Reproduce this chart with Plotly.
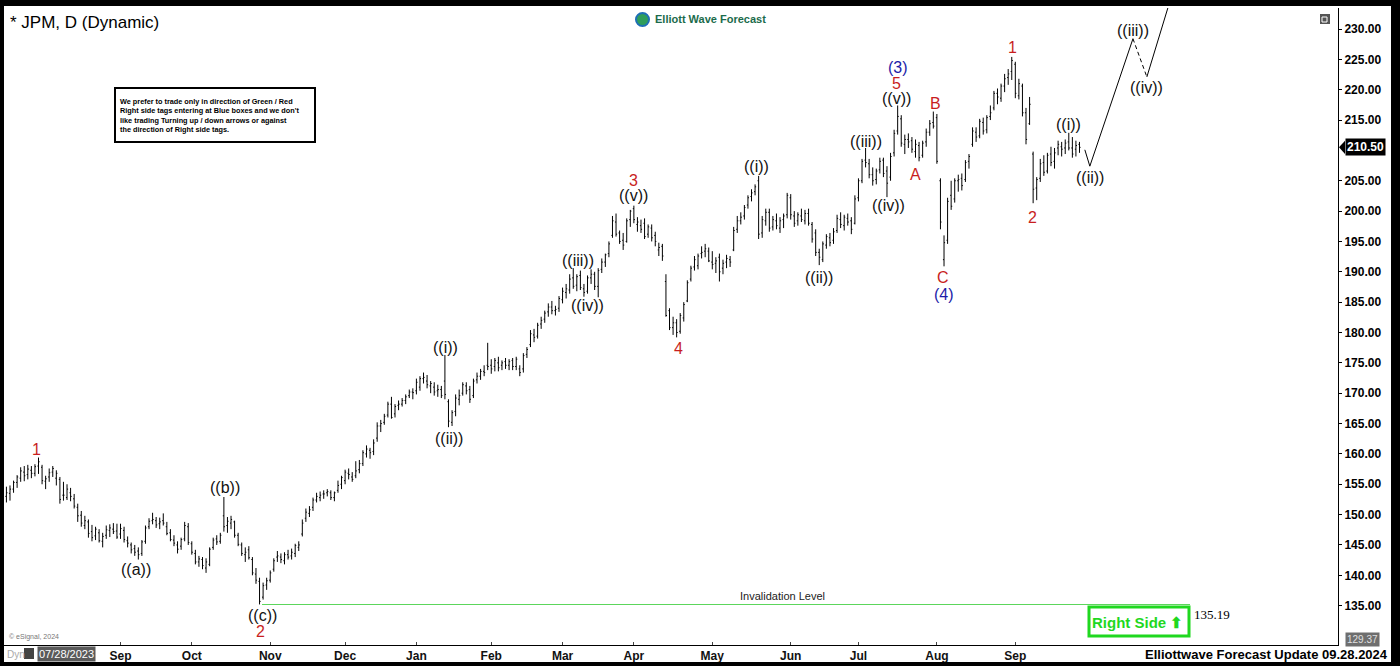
import pandas as pd
import plotly.graph_objs as go

# JPM daily bars, 19 Jul 2023 .. 27 Sep 2024
holidays = ["2023-09-04", "2023-11-23", "2023-12-25", "2024-01-01", "2024-01-15",
            "2024-02-19", "2024-03-29", "2024-05-27", "2024-06-19", "2024-07-04",
            "2024-09-02"]

opens = [
    153.0, 153.5, 154.2, 155.3, 156.0, 157.0, 156.6, 157.3, 156.8,  # jul 23
    158.0, 157.8, 155.5, 156.2, 157.0, 156.0, 155.8, 153.2, 152.8, 153.6, 152.6, 151.2,
    149.9, 148.2, 148.8, 147.2, 146.5, 147.0, 145.6, 146.6, 147.4, 147.6, 147.3,  # aug
    146.8, 147.4, 145.7, 145.0, 144.4, 144.0, 143.6, 145.6, 148.0, 149.0, 149.0, 148.5,
    149.0, 148.0, 147.0, 145.8, 145.0, 144.8, 146.0, 148.0,  # sep
    145.2, 143.6, 142.2, 142.6, 141.2, 141.8, 144.6, 146.0, 145.6, 149.8, 148.2, 148.6,
    148.8, 146.6, 145.0, 143.4, 144.2, 142.6, 140.2, 139.0, 136.4, 138.4,  # oct
    139.2, 141.0, 143.0, 143.0, 142.4, 143.4, 143.2, 143.6, 144.6, 146.8, 149.4, 150.2,
    151.2, 152.4, 152.8, 153.4, 153.6, 153.6, 152.8, 154.0, 155.0,  # nov
    155.6, 156.8, 156.2, 156.4, 157.4, 158.4, 160.0, 160.6, 160.4, 162.6, 164.6, 165.2,
    166.4, 168.2, 166.6, 168.0, 168.2, 168.8, 169.6, 170.2,  # dec
    170.4, 171.0, 172.4, 172.0, 171.2, 171.0, 170.4, 170.6, 172.0, 168.6, 165.2, 167.0,
    169.0, 170.0, 171.2, 170.6, 169.6, 172.2, 172.8, 173.6, 174.6,  # jan 24
    174.6, 174.4, 175.0, 174.6, 175.2, 174.6, 175.4, 174.4, 174.0, 174.0, 176.4, 178.0,
    179.6, 179.4, 181.4, 182.2, 183.4, 184.2, 183.6, 184.0,  # feb
    185.4, 186.6, 187.0, 189.0, 187.8, 189.4, 187.2, 186.8, 189.0, 189.6, 187.6, 190.4,
    191.6, 193.0, 196.0, 198.2, 196.4, 195.2, 195.0, 198.6,  # mar
    200.4, 197.8, 197.6, 198.0, 196.2, 197.2, 196.0, 193.6, 194.2, 188.4, 183.6, 180.8,
    181.6, 180.2, 182.4, 185.2, 188.8, 190.8, 191.0, 193.0, 193.4, 193.4,  # apr
    191.6, 191.4, 192.4, 190.6, 191.6, 192.0, 193.6, 197.0, 198.4, 199.2, 201.0, 202.4,
    203.2, 205.0, 196.4, 198.4, 199.8, 197.4, 198.4, 197.2, 198.6, 199.4,  # may
    202.2, 199.2, 198.4, 199.2, 198.4, 199.6, 197.8, 196.4, 193.2, 192.0, 194.4, 195.6,
    195.2, 196.8, 198.6, 197.6, 198.8, 198.4, 198.0,  # jun
    202.2, 205.0, 208.4, 207.8, 206.0, 205.2, 206.8, 208.4, 206.6, 205.6, 209.6, 213.2,
    215.2, 211.0, 211.8, 211.6, 209.8, 210.8, 209.2, 211.4, 213.0, 214.6,  # jul
    215.4, 205.0, 192.0, 195.2, 202.6, 202.0, 205.0, 205.4, 205.2, 208.2, 211.0, 213.0,
    212.4, 214.6, 213.4, 215.6, 217.0, 219.4, 218.6, 220.6, 222.0, 223.0,  # aug
    224.2, 219.0, 220.6, 216.2, 214.4, 209.4, 203.8, 205.4, 208.0, 206.6, 209.4, 208.2,
    210.4, 210.6, 210.4, 211.4, 210.4, 210.2, 211.0,  # sep
]

highs = [
    154.6, 154.8, 155.6, 156.5, 157.8, 158.0, 158.2, 158.0, 158.3,
    159.4, 158.2, 156.4, 157.6, 158.0, 157.3, 156.2, 155.4, 155.0, 154.4, 153.4, 151.8,
    150.6, 149.8, 149.2, 148.3, 148.0, 147.6, 147.0, 148.2, 148.4, 148.6, 148.5,
    148.5, 148.0, 146.4, 145.4, 145.0, 144.6, 145.8, 148.2, 149.4, 150.3, 149.6, 149.5,
    150.2, 148.8, 147.6, 146.6, 145.6, 146.2, 148.8, 148.6,
    145.6, 144.2, 143.2, 143.0, 142.8, 144.6, 146.2, 146.6, 147.0, 152.9, 149.6, 149.8,
    149.0, 147.0, 145.4, 144.6, 144.8, 143.0, 141.2, 139.6, 138.8, 139.6,
    140.8, 142.8, 144.0, 143.6, 143.8, 144.2, 144.4, 145.2, 145.6, 149.2, 151.0, 151.4,
    152.8, 153.6, 153.8, 154.0, 154.2, 154.0, 153.8, 155.6, 156.4,
    157.4, 157.6, 157.0, 158.8, 159.0, 160.6, 161.4, 161.0, 162.4, 165.2, 165.6, 166.6,
    168.6, 169.4, 168.2, 168.8, 169.2, 169.8, 170.6, 170.8,
    172.4, 172.8, 173.4, 173.0, 172.0, 171.8, 171.4, 171.2, 176.3, 169.0, 167.2, 169.8,
    170.6, 171.8, 171.8, 171.2, 172.4, 173.4, 174.0, 174.6, 178.3,
    175.6, 175.8, 176.0, 175.4, 175.8, 175.6, 175.8, 176.0, 174.6, 176.6, 177.6, 180.4,
    180.6, 181.6, 182.6, 183.6, 184.8, 185.2, 184.4, 186.0,
    187.4, 188.0, 189.6, 190.6, 189.6, 190.2, 188.0, 189.4, 190.4, 190.0, 190.6, 192.2,
    193.0, 195.0, 199.2, 199.6, 196.8, 196.4, 198.8, 200.2,
    200.9, 199.0, 198.6, 198.8, 197.8, 197.8, 196.6, 194.8, 194.6, 189.6, 184.0, 182.6,
    182.2, 183.2, 185.0, 188.6, 191.0, 192.6, 193.0, 194.2, 194.6, 194.0,
    193.4, 192.4, 193.0, 192.0, 192.8, 192.6, 197.4, 199.2, 199.8, 201.0, 202.6, 203.6,
    204.4, 205.8, 199.2, 200.4, 200.4, 199.2, 199.6, 199.0, 199.6, 203.0,
    202.8, 200.0, 199.8, 200.4, 200.2, 200.4, 198.2, 197.0, 193.8, 195.0, 196.2, 196.4,
    197.2, 199.4, 199.8, 199.4, 199.6, 199.0, 202.6,
    205.4, 208.6, 210.4, 208.6, 207.2, 207.0, 208.8, 208.8, 207.4, 209.6, 213.4, 217.4,
    215.8, 212.6, 212.8, 212.2, 211.8, 211.4, 211.6, 213.6, 215.0, 216.4,
    216.0, 205.4, 196.0, 202.2, 205.0, 205.4, 206.0, 206.2, 208.4, 209.4, 213.8, 213.8,
    215.2, 215.4, 215.8, 217.4, 219.8, 220.2, 221.0, 222.6, 223.4, 225.4,
    224.6, 221.8, 221.0, 217.0, 218.8, 209.8, 205.6, 208.6, 209.2, 209.6, 210.6, 210.4,
    211.6, 211.4, 211.8, 212.9, 212.2, 211.6, 211.4,
]

lows = [
    152.0, 152.3, 153.6, 154.4, 155.4, 155.5, 155.8, 156.0, 156.3,
    156.7, 155.0, 154.2, 155.4, 156.2, 154.8, 151.8, 152.3, 152.4, 152.2, 151.0, 148.8,
    148.0, 147.6, 146.2, 145.6, 145.8, 145.4, 144.6, 146.0, 146.3, 146.8, 146.0,
    146.0, 145.4, 144.6, 143.6, 143.2, 142.6, 143.2, 145.2, 147.6, 148.4, 147.8, 147.6,
    148.2, 146.6, 145.6, 144.8, 143.6, 144.2, 145.6, 145.0,
    143.4, 141.8, 141.4, 141.0, 140.4, 141.5, 144.2, 145.0, 145.2, 147.2, 147.0, 147.6,
    146.2, 144.8, 143.2, 142.2, 142.6, 140.0, 138.6, 135.2, 136.0, 137.6,
    138.8, 140.6, 142.2, 142.0, 141.8, 142.6, 142.6, 143.0, 144.0, 146.4, 148.8, 149.6,
    150.6, 152.0, 152.2, 152.6, 153.0, 152.4, 152.2, 153.6, 154.2,
    155.0, 155.8, 155.4, 156.0, 156.8, 158.0, 159.4, 159.2, 159.8, 162.0, 163.6, 164.8,
    166.0, 165.8, 166.0, 167.2, 167.8, 168.2, 169.2, 169.0,
    169.8, 170.4, 171.6, 170.8, 170.0, 169.6, 169.4, 169.2, 169.0, 164.4, 164.6, 166.2,
    168.0, 169.6, 169.8, 168.4, 169.2, 171.6, 172.2, 172.8, 173.8,
    173.2, 173.6, 173.6, 173.8, 174.0, 173.8, 173.8, 173.8, 172.8, 173.4, 175.8, 177.6,
    178.4, 179.0, 180.6, 181.6, 182.6, 183.0, 182.8, 183.4,
    184.8, 185.6, 186.4, 187.2, 186.8, 187.0, 185.9, 186.4, 188.0, 187.0, 185.8, 189.8,
    190.8, 192.4, 195.6, 195.8, 194.6, 193.6, 194.8, 197.4,
    198.0, 196.6, 196.4, 195.4, 195.6, 195.0, 194.2, 192.6, 191.8, 182.6, 180.4, 179.6,
    179.2, 179.8, 181.8, 185.0, 188.4, 190.2, 190.4, 192.2, 192.4, 191.6,
    190.4, 189.8, 188.4, 189.6, 190.6, 190.8, 193.4, 196.4, 197.8, 198.6, 200.4, 201.6,
    202.6, 195.4, 195.6, 197.6, 196.6, 196.8, 197.0, 196.4, 197.2, 198.8,
    198.6, 197.4, 197.6, 198.2, 197.8, 197.6, 194.8, 192.6, 191.1, 191.6, 193.8, 194.2,
    194.6, 196.4, 197.2, 196.8, 197.6, 196.2, 197.8,
    201.6, 204.6, 207.2, 205.4, 204.2, 204.4, 206.2, 205.6, 202.3, 205.0, 209.0, 212.6,
    210.6, 209.4, 210.4, 209.6, 208.8, 208.2, 208.8, 210.6, 212.4, 213.6,
    207.8, 197.0, 190.9, 194.6, 200.2, 201.4, 203.2, 203.4, 204.8, 207.0, 210.6, 211.4,
    212.0, 212.6, 212.8, 215.0, 216.6, 217.6, 218.0, 219.6, 220.8, 221.6,
    218.6, 218.4, 215.6, 211.0, 214.2, 201.3, 201.8, 204.8, 205.8, 206.2, 207.4, 207.0,
    209.2, 209.0, 209.4, 210.0, 208.8, 209.0, 209.6,
]

closes = [
    153.6, 154.2, 155.3, 156.2, 157.2, 156.4, 157.5, 156.8, 157.9,
    158.7, 155.6, 155.9, 156.9, 157.6, 156.8, 152.5, 153.2, 154.2, 153.0, 151.4, 149.8,
    148.6, 149.0, 146.9, 146.2, 147.6, 145.7, 146.4, 147.5, 147.8, 147.2, 146.3,
    147.7, 145.9, 145.3, 144.2, 143.8, 143.4, 145.5, 147.8, 148.9, 149.2, 148.3, 148.8,
    148.6, 146.9, 145.9, 145.3, 144.3, 145.9, 148.2, 145.4,
    143.8, 142.2, 142.7, 141.6, 142.2, 144.3, 145.8, 145.5, 146.6, 148.0, 148.9, 149.2,
    146.6, 145.1, 143.6, 143.8, 142.9, 140.4, 139.2, 135.7, 138.3, 139.1,
    140.4, 142.4, 143.2, 142.6, 143.4, 143.0, 143.8, 144.9, 145.0, 148.6, 150.4, 150.8,
    152.4, 153.0, 153.2, 153.4, 153.8, 152.8, 153.6, 154.8, 156.1,
    157.0, 156.6, 155.8, 157.2, 158.4, 160.2, 160.8, 160.2, 161.8, 164.6, 165.0, 166.2,
    168.2, 166.0, 167.8, 168.2, 168.8, 169.4, 170.2, 170.1,
    171.8, 172.4, 172.6, 171.4, 171.6, 170.2, 170.6, 169.6, 169.8, 165.4, 166.8, 169.2,
    169.6, 171.4, 170.4, 169.0, 172.0, 172.8, 173.6, 173.4, 174.4,
    174.0, 175.4, 174.2, 175.0, 174.6, 175.2, 174.4, 175.6, 173.4, 176.2, 177.2, 179.8,
    179.2, 181.2, 182.0, 183.2, 184.2, 183.6, 183.8, 185.6,
    186.8, 187.2, 188.8, 187.6, 189.2, 187.4, 186.6, 189.0, 189.6, 187.6, 190.2, 191.6,
    192.8, 194.6, 198.4, 196.2, 195.0, 194.4, 198.4, 200.0,
    198.6, 198.2, 197.0, 195.8, 197.4, 195.6, 195.0, 194.0, 192.6, 182.8, 180.8, 181.6,
    180.0, 182.8, 184.6, 188.2, 190.6, 192.0, 192.6, 193.2, 193.8, 191.8,
    191.2, 191.8, 190.0, 191.4, 192.2, 191.6, 196.8, 198.4, 199.0, 200.6, 202.2, 203.0,
    204.0, 196.2, 198.6, 199.8, 197.2, 198.6, 197.6, 198.4, 199.2, 202.6,
    199.4, 198.0, 199.4, 198.6, 199.6, 198.0, 195.4, 193.2, 192.4, 194.6, 195.8, 194.8,
    196.6, 198.8, 197.8, 199.0, 198.2, 197.0, 202.0,
    205.0, 208.2, 208.0, 206.0, 205.0, 206.6, 208.2, 206.2, 204.6, 209.0, 212.8, 215.6,
    211.2, 211.8, 211.4, 210.2, 211.0, 208.8, 211.2, 213.0, 214.4, 214.0,
    208.2, 198.2, 194.8, 201.6, 200.8, 205.0, 205.2, 204.2, 208.0, 209.0, 213.2, 212.2,
    214.8, 213.2, 215.4, 216.2, 219.4, 218.8, 220.6, 221.8, 222.6, 224.8,
    219.4, 221.0, 216.2, 211.8, 217.6, 203.6, 205.2, 207.8, 206.4, 209.2, 208.0, 209.6,
    211.0, 210.2, 211.2, 210.4, 209.4, 210.8, 210.5,
]

# wave counts: bar position, price, label, colour
RED, BLUE, BLK = "#c81e1e", "#1c1ca8", "#111111"
wave_labels = [
    (8.3, 160.8, "1", RED), (36.3, 141.0, "((a))", BLK), (61.3, 154.4, "((b))", BLK),
    (71.7, 133.3, "((c))", BLK), (71.4, 130.7, "2", RED),
    (123.3, 177.6, "((i))", BLK), (124.1, 162.6, "((ii))", BLK),
    (160.3, 191.8, "((iii))", BLK), (163.1, 184.4, "((iv))", BLK),
    (175.8, 205.0, "3", RED), (175.8, 202.5, "((v))", BLK), (188.4, 177.4, "4", RED),
    (210.5, 207.3, "((i))", BLK), (227.9, 189.0, "((ii))", BLK),
    (241.1, 211.5, "((iii))", BLK), (247.3, 201.0, "((iv))", BLK),
    (250.1, 223.6, "(3)", BLUE), (249.8, 221.1, "5", RED), (249.8, 218.6, "((v))", BLK),
    (254.9, 206.1, "A", RED), (260.5, 217.8, "B", RED), (262.7, 189.0, "C", RED),
    (263.0, 186.2, "(4)", BLUE), (282.1, 227.0, "1", RED), (287.9, 198.9, "2", RED),
    (297.8, 214.3, "((i))", BLK), (303.9, 205.5, "((ii))", BLK),
    (316.0, 229.8, "((iii))", BLK), (319.9, 220.3, "((iv))", BLK),
]

# projected path
proj_x = [302.5, 303.9, 316.0]
proj_y = [210.1, 207.4, 228.4]
proj_dash_x = [316.0, 319.9]
proj_dash_y = [228.4, 222.1]
proj_end_x = [319.9, 327.1]
proj_end_y = [222.1, 236.0]

invalidation = 135.19
inval_x = [71.7, 332.0]
last_price = 210.50
low_price = 129.37
price_ticks = [135, 140, 145, 150, 155, 160, 165, 170, 175, 180, 185, 190, 195, 200,
               205, 215, 220, 225, 230]

days = pd.bdate_range("2023-07-19", "2024-09-27")
days = days[~days.isin(pd.to_datetime(holidays))]
xs = list(range(len(days)))

tickvals = [i for i in xs[1:] if days[i].month != days[i - 1].month][1:]
ticktext = [days[i].strftime("%b") for i in tickvals]

W, H = 1400, 666
L, R, T, B = 4, 1338, 8, 645
FONT = "Liberation Sans, Arial, sans-serif"


def px(x):
    return (x - L) / (R - L)


def py(y):
    return (B - y) / (B - T)


def note(x, y, text, size, color="black", xanchor="center", **kw):
    # overlay text placed at a pixel position of the page
    return dict(xref="paper", yref="paper", x=px(x), y=py(y), text=text, showarrow=False,
                xanchor=xanchor, yanchor="middle",
                font=dict(family=kw.pop("family", FONT), size=size, color=color), **kw)


fig = go.Figure()
fig.add_trace(go.Ohlc(x=xs, open=opens, high=highs, low=lows, close=closes,
                      increasing=dict(line=dict(color="black", width=1)),
                      decreasing=dict(line=dict(color="black", width=1)),
                      tickwidth=0.3, hoverinfo="skip", showlegend=False))

fig.add_trace(go.Scatter(x=inval_x, y=[invalidation] * 2, mode="lines",
                         line=dict(color="#5cd65c", width=1), hoverinfo="skip",
                         showlegend=False))
fig.add_trace(go.Scatter(x=proj_x, y=proj_y, mode="lines", line=dict(color="black", width=1),
                         hoverinfo="skip", showlegend=False))
fig.add_trace(go.Scatter(x=proj_dash_x, y=proj_dash_y, mode="lines",
                         line=dict(color="black", width=1, dash="4px,3px"),
                         hoverinfo="skip", showlegend=False))
fig.add_trace(go.Scatter(x=proj_end_x, y=proj_end_y, mode="lines",
                         line=dict(color="black", width=1), hoverinfo="skip",
                         showlegend=False))

ann = []
for x, y, t, c in wave_labels:
    ann.append(dict(x=x, y=y, text=t, showarrow=False, xanchor="center", yanchor="middle",
                    font=dict(family=FONT, size=16, color=c)))

ann += [
    dict(x=217.8, y=invalidation, text="Invalidation Level", showarrow=False, yanchor="bottom",
         yshift=1, font=dict(family=FONT, size=11, color="#222")),
    dict(x=332.6, y=invalidation, text="135.19", showarrow=False, xanchor="left", yanchor="top",
         font=dict(family="Liberation Serif, Times New Roman, serif", size=13, color="black")),
    note(1137, 622, "<b>Right Side ⬆</b>", 15, "#1fd81f"),
    note(8, 22, "* JPM, D (Dynamic)", 17, xanchor="left"),
    note(653, 19, "<b>Elliott Wave Forecast</b>", 11, "#1b6b4b", xanchor="left"),
    note(118, 115, "<b>We prefer to trade only in direction of Green / Red<br>"
                   "Right side tags entering at Blue boxes and we don't<br>"
                   "like trading Turning up / down arrows or against<br>"
                   "the direction of Right side tags.</b>", 7.3, xanchor="left", align="left"),
    note(1390, 654, "<b>Elliottwave Forecast Update 09.28.2024</b>", 13, xanchor="right"),
    note(7, 637, "© eSignal, 2024", 7, "#777", xanchor="left"),
    note(5, 654, "Dyn", 10, "#aaa", xanchor="left"),
    note(37, 654, "07/28/2023", 11, "white", xanchor="left", bgcolor="#5a5a5a", borderpad=1),
    dict(xref="paper", x=px(1345), y=last_price, text="<b>210.50</b>", showarrow=False,
         xanchor="left", yanchor="middle", bgcolor="black", borderpad=1,
         font=dict(family=FONT, size=12, color="white")),
    dict(xref="paper", x=px(1345), y=low_price, text="129.37", showarrow=False,
         xanchor="left", yanchor="middle", bgcolor="#6e6e6e", borderpad=1,
         font=dict(family=FONT, size=10, color="#e0e0e0")),
]

shapes = [
    # disclaimer box and right side box
    dict(type="rect", xref="paper", yref="paper", x0=px(115), x1=px(315), y0=py(142), y1=py(88),
         line=dict(color="black", width=2)),
    dict(type="rect", xref="paper", yref="paper", x0=px(1089), x1=px(1189), y0=py(636), y1=py(607),
         line=dict(color="#1fd81f", width=3)),
    # logo mark
    dict(type="circle", xref="paper", yref="paper", x0=px(636), x1=px(649), y0=py(26), y1=py(13),
         fillcolor="#2e9e5b", line=dict(color="#1e6fb5", width=2)),
    # window icon, top right
    dict(type="rect", xref="paper", yref="paper", x0=px(1320), x1=px(1330), y0=py(24), y1=py(14),
         fillcolor="#555", line=dict(width=0)),
    dict(type="rect", xref="paper", yref="paper", x0=px(1322), x1=px(1327), y0=py(22), y1=py(17),
         line=dict(color="white", width=1)),
    # small icon next to Dyn
    dict(type="rect", xref="paper", yref="paper", x0=px(24), x1=px(34), y0=py(659), y1=py(648),
         fillcolor="#444", line=dict(width=0)),
    # price tag notch
    dict(type="path", xref="paper", yref="y",
         path=f"M {px(1339)},{last_price} L {px(1345)},{last_price + 1.1} "
              f"L {px(1345)},{last_price - 1.1} Z",
         fillcolor="black", line=dict(width=0)),
    # outer frame
    dict(type="rect", xref="paper", yref="paper", x0=px(0), x1=px(4), y0=py(666), y1=py(0),
         fillcolor="black", line=dict(width=0)),
    dict(type="rect", xref="paper", yref="paper", x0=px(0), x1=px(1400), y0=py(6), y1=py(0),
         fillcolor="black", line=dict(width=0)),
    dict(type="rect", xref="paper", yref="paper", x0=px(1391), x1=px(1400), y0=py(666), y1=py(0),
         fillcolor="black", line=dict(width=0)),
    dict(type="rect", xref="paper", yref="paper", x0=px(0), x1=px(1400), y0=py(666), y1=py(662),
         fillcolor="black", line=dict(width=0)),
]

x_lo = -0.68
x_hi = x_lo + (R - L) / 3.565
y_hi = 230 + (29 - T) / 6.07
y_lo = y_hi - (B - T) / 6.07

fig.update_layout(
    width=W, height=H,
    margin=dict(l=L, r=W - R, t=T, b=H - B),
    paper_bgcolor="white", plot_bgcolor="white",
    font=dict(family=FONT, color="black"),
    showlegend=False,
    annotations=ann, shapes=shapes,
    xaxis=dict(range=[x_lo, x_hi], rangeslider=dict(visible=False), showgrid=False,
               zeroline=False, automargin=False, tickvals=tickvals, ticktext=ticktext,
               ticks="inside", ticklen=3, tickcolor="#444", showline=True,
               linecolor="black", linewidth=1,
               tickfont=dict(family=FONT, size=12, color="#111", weight="bold")),
    yaxis=dict(range=[y_lo, y_hi], side="right", showgrid=False, zeroline=False,
               automargin=False, tickvals=price_ticks,
               ticktext=[f"{v:.2f}" for v in price_ticks],
               ticks="outside", ticklen=3, tickcolor="black", showline=True,
               linecolor="black", linewidth=1,
               tickfont=dict(family=FONT, size=12, color="black", weight="bold")),
)

fig.write_html("out.html", config={"displayModeBar": False},
               post_script="document.body.style.margin='0px';")
